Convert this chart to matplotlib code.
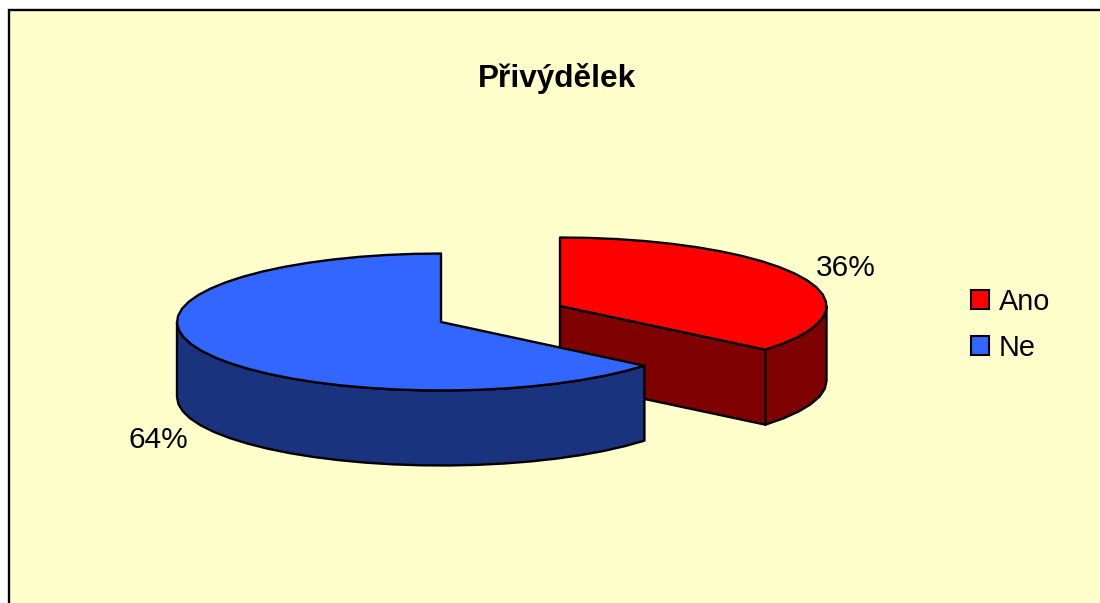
import numpy as np
import matplotlib
matplotlib.use("Agg")
import matplotlib.pyplot as plt
from matplotlib.patches import Patch, Polygon

plt.rcParams['font.family'] = ['Liberation Sans', 'DejaVu Sans']

title = "Přivýdělek"
labels = ["Ano", "Ne"]
values = [36, 64]

top_cols = ["#FF0000", "#3366FF"]
side_cols = ["#7F0000", "#19337F"]
cream = "#FFFFCC"

# pixel geometry of the tilted pie
centers = [(560, 306), (441, 322)]
radii = [266.5, 264]
ry = 68.5
depth = 75
lw = 1.7

fig = plt.figure(figsize=(11, 6.03), dpi=100, facecolor="white")
ax = fig.add_axes([0, 0, 1, 1])
ax.set_xlim(0, 1100)
ax.set_ylim(603, 0)
ax.axis("off")

ax.add_patch(plt.Rectangle((8.5, 10), 1100, 700, fc=cream, ec="black", lw=1.7, zorder=0))


def rim(c, rx, a0, a1, dy=0):
    # angles clockwise from top, in degrees
    a = np.radians(np.linspace(a0, a1, max(int(abs(a1 - a0) / 6), 2) + 1))
    return np.column_stack((c[0] + rx * np.sin(a), c[1] - ry * np.cos(a) + dy))


def poly(pts, col, z):
    ax.add_patch(Polygon(pts, closed=True, fc=col, ec="black", lw=lw, joinstyle="round", zorder=z))


angs = np.cumsum([0] + values) * 360 / sum(values)

# Ano slice (behind)
c, rx = centers[0], radii[0]
a0, a1 = angs[0], angs[1]
end = rim(c, rx, a1, a1)[0]
poly([c, end, (end[0], end[1] + depth), (c[0], c[1] + depth)], side_cols[0], 1)
outer = rim(c, rx, 90, a1)
poly(np.vstack((outer, rim(c, rx, a1, 90, depth))), side_cols[0], 2)
poly(np.vstack(([c], rim(c, rx, a0, a1))), top_cols[0], 3)

# Ne slice (front)
c, rx = centers[1], radii[1]
a0, a1 = angs[1], angs[2]
poly(np.vstack((rim(c, rx, a0, 270), rim(c, rx, 270, a0, depth))), side_cols[1], 4)
poly(np.vstack(([c], rim(c, rx, a0, a1))), top_cols[1], 5)

ax.text(557, 79, title, fontsize=22.7, fontweight="bold", ha="center", va="center", color="black")
ax.text(845.5, 268.5, f"{values[0]}%", fontsize=21.5, ha="center", va="center", color="black")
ax.text(158, 439.5, f"{values[1]}%", fontsize=21.5, ha="center", va="center", color="black")

handles = [Patch(fc=col, ec="black", lw=1.5) for col in top_cols]
ax.legend(handles, labels, loc="center left", bbox_to_anchor=(970.5 / 1100, 1 - 325 / 603),
          frameon=False, fontsize=20.8, handlelength=0.64, handleheight=0.64,
          handletextpad=0.33, labelspacing=0.62, borderpad=0, borderaxespad=0)

fig.savefig("out.png", dpi=100, facecolor="white")
